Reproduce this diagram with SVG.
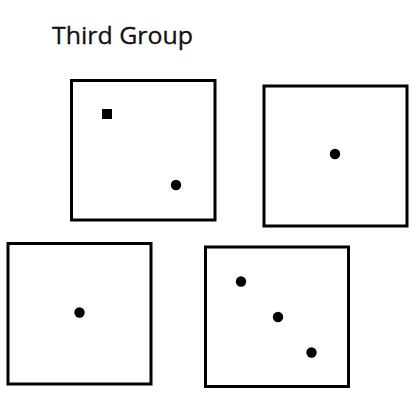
<svg xmlns="http://www.w3.org/2000/svg" width="415" height="409" viewBox="0 0 415 409">
<style>
.box{fill:none;stroke:#000;stroke-width:3}
.dot{fill:#000}
.title{font-family:"Open Sans","Noto Sans",sans-serif;font-size:24px;fill:#111;stroke:#111;stroke-width:0.3}
</style>
<rect width="415" height="409" fill="#fff"/>
<text class="title" x="52" y="44" textLength="141" lengthAdjust="spacingAndGlyphs">Third Group</text>
<g id="box1">
<rect class="box" x="71.5" y="80.5" width="143.5" height="139.5"/>
<rect class="dot" x="102" y="109" width="10" height="10"/>
<circle class="dot" cx="176" cy="185" r="5.2"/>
</g>
<g id="box2">
<rect class="box" x="264" y="86" width="143" height="140"/>
<circle class="dot" cx="335" cy="154" r="5.2"/>
</g>
<g id="box3">
<rect class="box" x="8" y="243.5" width="143" height="140.5"/>
<circle class="dot" cx="79.5" cy="312.5" r="5.2"/>
</g>
<g id="box4">
<rect class="box" x="205.5" y="247" width="143" height="139.5"/>
<circle class="dot" cx="241" cy="281.5" r="5.2"/>
<circle class="dot" cx="278" cy="317" r="5.2"/>
<circle class="dot" cx="311.5" cy="352.5" r="5.2"/>
</g>
<g id="connectors"/>
</svg>
